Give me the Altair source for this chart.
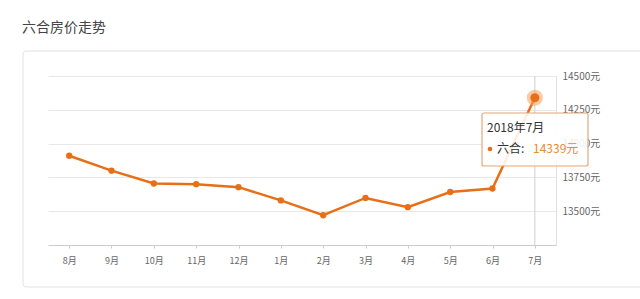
import altair as alt
import pandas as pd

months = ["8月", "9月", "10月", "11月", "12月", "1月", "2月", "3月", "4月", "5月", "6月", "7月"]
prices = [13910, 13800, 13705, 13700, 13678, 13580, 13470, 13598, 13530, 13642, 13668, 14339]
y_ticks = [13500, 13750, 14000, 14250, 14500]
title_text = "六合房价走势"
tip_date = "2018年7月"
tip_name = "六合:"
tip_value = "14339元"

FONT = "Noto Sans CJK SC"
ORANGE = "#e86f17"

df = pd.DataFrame({"month": months, "price": prices})
last = df.iloc[[-1]]

x_enc = alt.X("month:N", sort=months, scale=alt.Scale(type="point", padding=0.5),
              axis=alt.Axis(title=None, labelFont=FONT, labelFontSize=9, labelColor="#666",
                            labelPadding=8, tickSize=3, tickColor="#ccc", domainColor="#ccc",
                            grid=False, labelAngle=0))
y_enc = alt.Y("price:Q", scale=alt.Scale(domain=[13250, 14500], nice=False, zero=False),
              axis=alt.Axis(title=None, orient="right", values=y_ticks,
                            labelExpr="datum.value + '元'", labelFont=FONT, labelFontSize=10,
                            labelColor="#666", labelPadding=6, ticks=False,
                            domainColor="#e0e0e0", gridColor="#e8e8e8"))

box = alt.Chart(pd.DataFrame({"k": [0]})).mark_rect(
    fill="white", fillOpacity=0, stroke="#e2e2e2", strokeWidth=1, cornerRadius=3
).encode(x=alt.value(-25), x2=alt.value(600), y=alt.value(-25), y2=alt.value(211))

base = alt.Chart(df)

line = base.mark_line(color=ORANGE, strokeWidth=2.5).encode(x=x_enc, y=y_enc)
pts = base.mark_circle(color=ORANGE, size=40, opacity=1).encode(x=x_enc, y=y_enc)

cross = alt.Chart(last).mark_rule(color="#cfcfcf", strokeWidth=1).encode(
    x=x_enc, y=alt.value(0), y2=alt.value(169))
halo = alt.Chart(last).mark_circle(color="#f7a05a", size=260, opacity=0.55).encode(
    x=x_enc, y=y_enc)
hl = alt.Chart(last).mark_circle(color=ORANGE, size=80, opacity=1).encode(
    x=x_enc, y=y_enc)

tip_box = alt.Chart(pd.DataFrame({"k": [0]})).mark_rect(
    fill="white", fillOpacity=0.88, stroke="#e3a77a", strokeWidth=1.2, cornerRadius=2
).encode(x=alt.value(434), x2=alt.value(540), y=alt.value(37), y2=alt.value(90))

t1 = alt.Chart(pd.DataFrame({"t": [tip_date]})).mark_text(
    font=FONT, fontSize=12, color="#333", align="left", baseline="middle").encode(
    text="t:N", x=alt.value(439), y=alt.value(52))
tdot = alt.Chart(pd.DataFrame({"k": [0]})).mark_circle(color=ORANGE, size=22, opacity=1).encode(
    x=alt.value(442), y=alt.value(73))
t2 = alt.Chart(pd.DataFrame({"t": [tip_name]})).mark_text(
    font=FONT, fontSize=12, color="#333", align="left", baseline="middle").encode(
    text="t:N", x=alt.value(449), y=alt.value(73))
t3 = alt.Chart(pd.DataFrame({"t": [tip_value]})).mark_text(
    font=FONT, fontSize=12, color="#e88a2e", align="left", baseline="middle").encode(
    text="t:N", x=alt.value(485), y=alt.value(73))

chart = alt.layer(box, line, cross, pts, halo, hl, tip_box, t1, tdot, t2, t3).properties(
    width=508, height=169,
    autosize=alt.AutoSizeParams(type="none"),
    padding={"left": 48, "top": 76, "right": 84, "bottom": 54},
    title=alt.TitleParams(title_text, anchor="start", frame="group", dx=-26, offset=16,
                          font=FONT, fontSize=14, fontWeight="normal", color="#444"),
).configure_view(stroke=None).configure_axis(labelFont=FONT)

chart.save("out.html", embed_options={"renderer": "svg", "actions": False})
